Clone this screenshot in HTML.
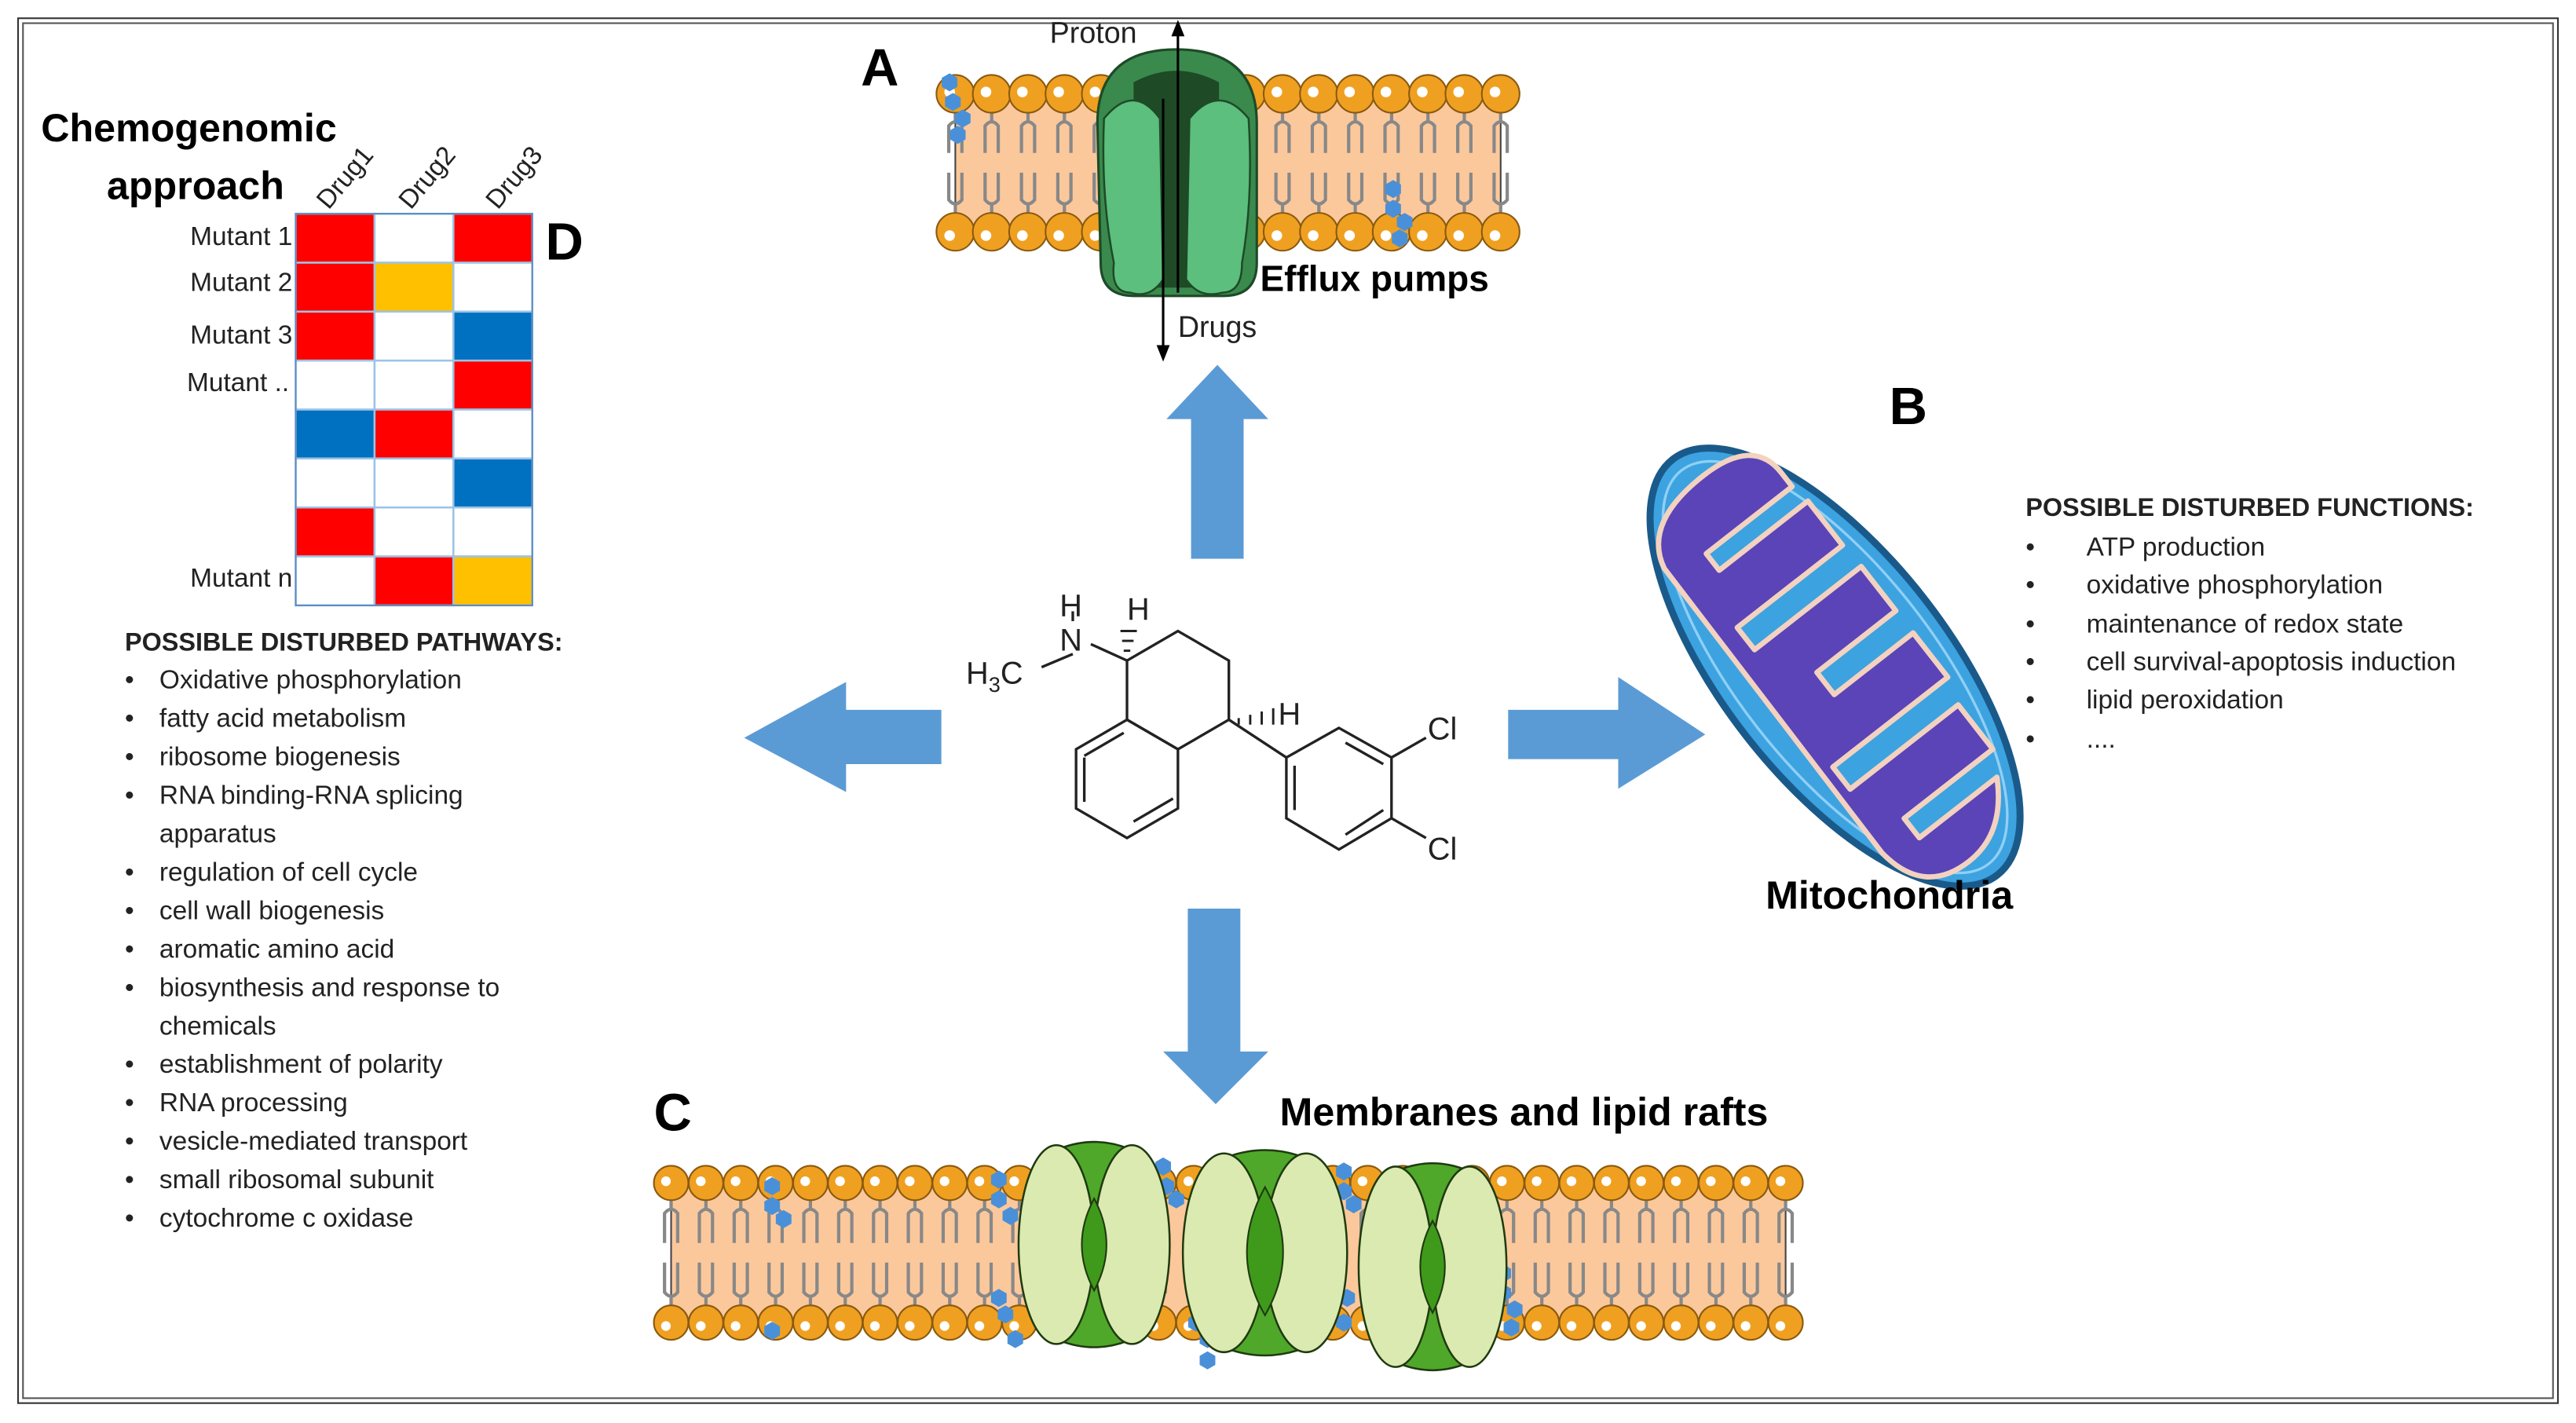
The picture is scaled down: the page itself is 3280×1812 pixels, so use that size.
<!DOCTYPE html>
<html><head><meta charset="utf-8"><style>
html,body{margin:0;padding:0;background:#fff;}
svg{display:block;}
text{font-family:"Liberation Sans",sans-serif;}
</style></head><body>
<svg id="s" width="3280" height="1812" viewBox="0 0 1568 866" xmlns="http://www.w3.org/2000/svg">
<rect x="0" y="0" width="1568" height="866" fill="#fff"/>
<rect x="11" y="11" width="1546" height="843" fill="none" stroke="#333" stroke-width="1"/>
<rect x="14" y="14" width="1540" height="837" fill="none" stroke="#555" stroke-width="1"/>

<g id="memA"></g>
<g id="memC"></g>

<!-- Efflux pump A -->
<g>
<path d="M668,75 Q668,30 716,30 Q765,30 765,75 L765,160 Q765,180 745,180 L690,180 Q670,180 670,160 Z" fill="#3a8a4e" stroke="#1e4a28" stroke-width="1.5"/>
<path d="M690,50 Q716,36 742,50 L742,175 L690,175 Z" fill="#1f4a26"/>
<path d="M672,72 Q690,50 706,72 L708,170 Q700,182 688,178 Q676,178 678,160 Q670,120 672,72 Z" fill="#5cbf7d" stroke="#1e4a28" stroke-width="1.2"/>
<path d="M724,72 Q742,50 760,72 Q763,120 756,160 Q756,178 744,178 Q730,182 722,170 Z" fill="#5cbf7d" stroke="#1e4a28" stroke-width="1.2"/>
</g>
<line x1="717" y1="178" x2="717" y2="18" stroke="#000" stroke-width="1.5"/>
<path d="M713,22 L717,12 L721,22 Z" fill="#000"/>
<line x1="708" y1="60" x2="708" y2="213" stroke="#000" stroke-width="1.5"/>
<path d="M704,210 L708,220 L712,210 Z" fill="#000"/>
<text x="639" y="26" font-size="18" fill="#222">Proton</text>
<text x="717" y="205" font-size="18" fill="#222">Drugs</text>
<text x="767" y="177" font-size="22" font-weight="bold">Efflux pumps</text>
<text x="524" y="52" font-size="32" font-weight="bold">A</text>

<!-- Arrows -->
<g fill="#5b9bd5">
<path d="M725,340 L757,340 L757,255 L772,255 L741,222 L710,255 L725,255 Z"/>
<path d="M573,432 L573,465 L515,465 L515,482 L453,449 L515,415 L515,432 Z"/>
<path d="M918,432 L985,432 L985,412 L1038,447 L985,480 L985,462 L918,462 Z"/>
<path d="M723,553 L755,553 L755,640 L772,640 L740,672 L708,640 L723,640 Z"/>
</g>

<!-- Molecule -->
<g stroke="#222" stroke-width="1.6" fill="none">
<path d="M686,402 L717,384 L748,402 L748,438 L717,456 L686,438 Z"/>
<path d="M686,438 L717,456 L717,492 L686,510 L655,492 L655,456 Z"/>
<path d="M690,500 L714,486 M660,460 L684,446 M660,488 L660,461" />
<path d="M815,443 L847,461 L847,498 L815,517 L783,498 L783,461 Z"/>
<path d="M819,452 L842,465 M842,493 L819,508 M788,466 L788,493"/>
<path d="M748,438 L783,461"/>
<path d="M847,461 L868,449 M847,498 L868,510"/>
<path d="M686,402 L664,392 M653,398 L634,406"/>
<path d="M653,378 L653,372"/>
</g>
<g stroke="#222" stroke-width="1.4">
<line x1="688" y1="396" x2="684" y2="396"/><line x1="690" y1="390" x2="683" y2="390"/><line x1="692" y1="384" x2="682" y2="384"/>
<line x1="754" y1="437" x2="754" y2="441"/><line x1="761" y1="435" x2="761" y2="441"/><line x1="768" y1="433" x2="768" y2="441"/><line x1="775" y1="431" x2="775" y2="441"/>
</g>
<g font-size="19" fill="#222">
<text x="645" y="375">H</text>
<text x="645" y="396">N</text>
<text x="588" y="416">H<tspan font-size="13" dy="5">3</tspan><tspan dy="-5">C</tspan></text>
<text x="686" y="377">H</text>
<text x="778" y="441">H</text>
<text x="869" y="450">Cl</text>
<text x="869" y="523">Cl</text>
</g>

<!-- Mitochondrion -->
<g transform="translate(1117,406) rotate(52) scale(1.07)">
<ellipse cx="0" cy="0" rx="150" ry="64" fill="#3da2e0" stroke="#1a5a8a" stroke-width="4"/>
<ellipse cx="0" cy="0" rx="142" ry="56" fill="none" stroke="#8fd0f5" stroke-width="1.5"/>
<path d="M-132,-8 Q-132,-44 -106,-44 L-96,-44 L-96,18 L-84,18 L-84,-46 L-52,-46 L-52,30 L-36,30 L-36,-47 L-4,-47 L-4,10 L12,10 L12,-47 L44,-47 L44,36 L60,36 L60,-42 L92,-42 L92,22 L106,22 L106,-34 Q134,-18 134,8 Q134,40 100,44 L-104,42 Q-132,36 -132,-8 Z" fill="#5a44b8" stroke="#f3d2c0" stroke-width="3" stroke-linejoin="round"/>
</g>
<text x="1150" y="258" font-size="32" font-weight="bold">B</text>
<text x="1150" y="553" font-size="24" font-weight="bold" text-anchor="middle">Mitochondria</text>

<g font-size="16" fill="#222">
<text x="1233" y="314" font-weight="bold" font-size="15.5">POSSIBLE DISTURBED FUNCTIONS:</text>
<text x="1233" y="338">•</text><text x="1270" y="338">ATP production</text>
<text x="1233" y="361">•</text><text x="1270" y="361">oxidative phosphorylation</text>
<text x="1233" y="385">•</text><text x="1270" y="385">maintenance of redox state</text>
<text x="1233" y="408">•</text><text x="1270" y="408">cell survival-apoptosis induction</text>
<text x="1233" y="431">•</text><text x="1270" y="431">lipid peroxidation</text>
<text x="1233" y="455">•</text><text x="1270" y="455">....</text>
</g>

<!-- C -->
<text x="398" y="688" font-size="32" font-weight="bold">C</text>
<text x="779" y="685" font-size="24" font-weight="bold">Membranes and lipid rafts</text>
<g id="prot"></g>

<!-- D -->
<text x="25" y="86" font-size="24" font-weight="bold">Chemogenomic</text>
<text x="65" y="121" font-size="24" font-weight="bold">approach</text>
<text x="332" y="158" font-size="32" font-weight="bold">D</text>
<g font-size="16" fill="#222">
<text transform="translate(200,128) rotate(-50)">Drug1</text>
<text transform="translate(250,128) rotate(-50)">Drug2</text>
<text transform="translate(303,128) rotate(-50)">Drug3</text>
</g>
<g id="grid"></g>
<g font-size="16" fill="#222" text-anchor="end">
<text x="178" y="149">Mutant 1</text>
<text x="178" y="177">Mutant 2</text>
<text x="178" y="209">Mutant 3</text>
<text x="176" y="238">Mutant ..</text>
<text x="178" y="357">Mutant n</text>
</g>
<g font-size="16" fill="#222" id="pl">
<text x="76" y="396" font-weight="bold" font-size="15.5">POSSIBLE DISTURBED PATHWAYS:</text>
</g>
</svg>
<script>
var NS="http://www.w3.org/2000/svg";
function el(p,t,a){var e=document.createElementNS(NS,t);for(var k in a)e.setAttribute(k,a[k]);p.appendChild(e);return e;}
function mem(g,x0,n,yt,yb,r,step){
 var x1=x0+2*r+(n-1)*step;
 el(g,"rect",{x:x0+r,y:yt,width:x1-x0-2*r,height:yb-yt,fill:"#fbc89c",stroke:"#444","stroke-width":1});
 for(var i=0;i < n;i++){
  var x=x0+r+i*step;
  var m=(yt+yb)/2;
  el(g,"path",{d:"M"+x+","+(yt+r)+" L"+x+","+(yt+r+5)+" M"+(x-4)+","+(m-6)+" L"+(x-4)+","+(yt+r+8)+" Q"+x+","+(yt+r+3)+" "+(x+4)+","+(yt+r+8)+" L"+(x+4)+","+(m-6)+
   " M"+x+","+(yb-r)+" L"+x+","+(yb-r-5)+" M"+(x-4)+","+(m+6)+" L"+(x-4)+","+(yb-r-8)+" Q"+x+","+(yb-r-3)+" "+(x+4)+","+(yb-r-8)+" L"+(x+4)+","+(m+6),
   stroke:"#888","stroke-width":2,fill:"none"});
  [yt,yb].forEach(function(y){
   el(g,"circle",{cx:x,cy:y,r:r,fill:"#f0a020",stroke:"#8a5a10","stroke-width":1});
   el(g,"circle",{cx:x-r*0.3,cy:y+(y==yt?-r*0.1:r*0.2),r:r*0.28,fill:"#fff"});
  });
 }
}
function hexs(g,pts){pts.forEach(function(p){var d="";for(var i=0;i < 6;i++){var a=Math.PI/3*i+Math.PI/6;d+=(i?"L":"M")+(p[0]+5.5*Math.cos(a))+","+(p[1]+5.5*Math.sin(a));}el(g,"path",{d:d+"Z",fill:"#4a90d9"});});}
var gA=document.getElementById("memA");mem(gA,570,16,57,141,11.5,22.13);
hexs(gA,[[578,50],[580,62],[586,72],[583,82],[848,115],[848,127],[855,135],[852,145]]);
var gC=document.getElementById("memC");mem(gC,398,33,720,805,10.5,21.2);
hexs(gC,[[470,722],[470,734],[477,742],[470,810],[608,718],[608,730],[615,740],[608,790],[612,800],[618,815],[708,710],[710,722],[716,730],[728,805],[735,815],[735,828],[818,713],[818,725],[824,733],[810,770],[812,782],[820,790],[818,805],[915,775],[915,787],[922,797],[920,808]]);
var gp=document.getElementById("prot");
function prot(cx,top,bot,w,big){
 var hw=w/2,m=(top+bot)/2;
 el(gp,"path",{d:"M"+(cx-hw*0.45)+","+(top+4)+" Q"+cx+","+(top-4)+" "+(cx+hw*0.45)+","+(top+4)+" L"+(cx+hw*0.45)+","+(bot-4)+" Q"+cx+","+(bot+4)+" "+(cx-hw*0.45)+","+(bot-4)+"Z",fill:"#4fa82a",stroke:"#1f3a10","stroke-width":1.2});
 el(gp,"ellipse",{cx:cx-hw*0.5,cy:m,rx:hw*0.5,ry:(bot-top)/2-2,fill:"#dbeab0",stroke:"#1f3a10","stroke-width":1.2});
 el(gp,"ellipse",{cx:cx+hw*0.5,cy:m,rx:hw*0.5,ry:(bot-top)/2-2,fill:"#dbeab0",stroke:"#1f3a10","stroke-width":1.2});
 el(gp,"path",{d:"M"+cx+","+(m-(big?40:28))+" Q"+(cx-(big?22:15))+","+m+" "+cx+","+(m+(big?38:28))+" Q"+(cx+(big?22:15))+","+m+" "+cx+","+(m-(big?40:28))+"Z",fill:"#3f9a1c",stroke:"#1f3a10","stroke-width":1});
}
prot(666,695,820,92,false);prot(770,700,825,100,true);prot(872,708,834,90,false);
var grid=document.getElementById("grid");
var cols=["#ff0000","#ffc000","#0070c0","#fff"];
var data=[[0,3,0],[0,1,3],[0,3,2],[3,3,0],[2,0,3],[3,3,2],[0,3,3],[3,0,1]];
for(var r=0;r < 8;r++)for(var c=0;c < 3;c++){
 el(grid,"rect",{x:180+c*48,y:130+r*29.8,width:48,height:29.8,fill:cols[data[r][c]],stroke:"#9dc3e6","stroke-width":1.2});
}
el(grid,"rect",{x:180,y:130,width:144,height:238.4,fill:"none",stroke:"#5b8bc0","stroke-width":1});
var items=["Oxidative phosphorylation","fatty acid metabolism","ribosome biogenesis","RNA binding-RNA splicing","apparatus","regulation of cell cycle","cell wall biogenesis","aromatic amino acid","biosynthesis and response to","chemicals","establishment of polarity","RNA processing","vesicle-mediated transport","small ribosomal subunit","cytochrome  c oxidase"];
var nob={"apparatus":1,"chemicals":1};
var pl=document.getElementById("pl");
items.forEach(function(t,i){var y=419+i*23.4;if(!nob[t]){var b=el(pl,"text",{x:76,y:y});b.textContent="•";}var e=el(pl,"text",{x:97,y:y});e.textContent=t;});
</script>
</body></html>
